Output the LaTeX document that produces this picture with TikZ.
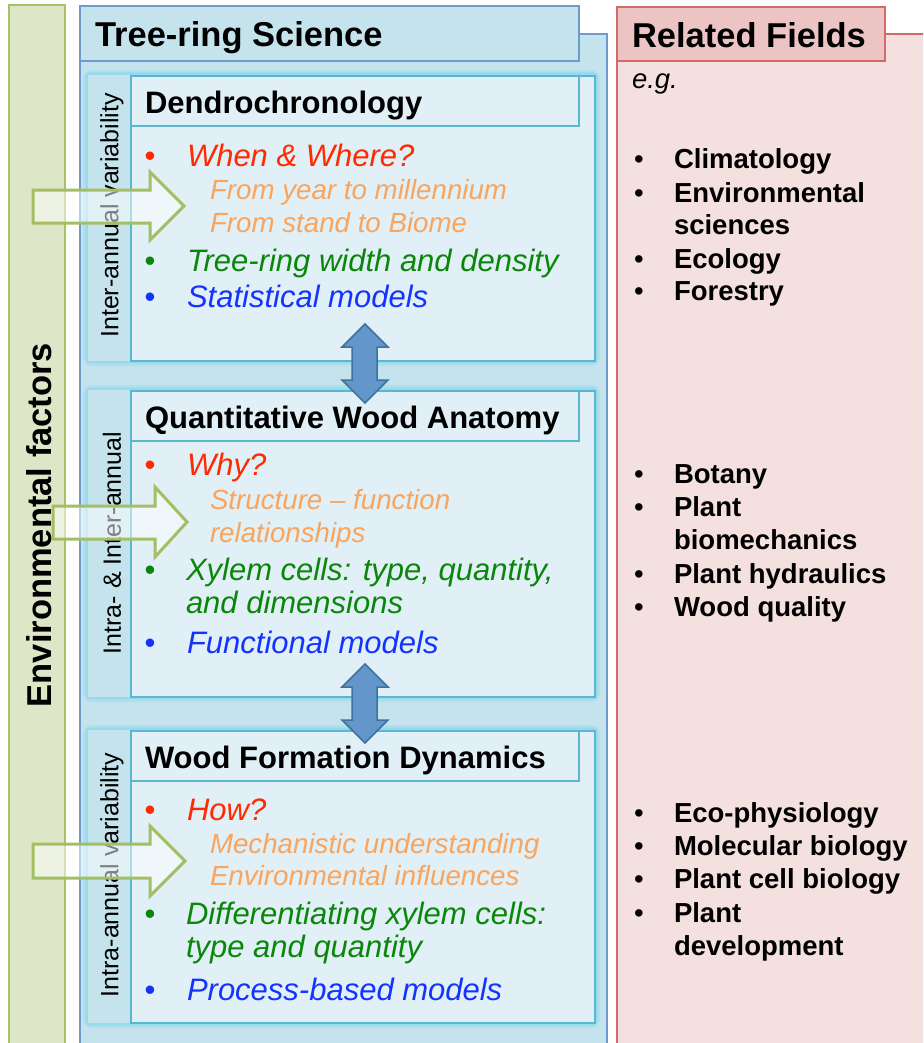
\documentclass[tikz,border=0pt]{standalone}
\usepackage{fontspec}
\setmainfont{Liberation Sans}
\definecolor{envfill}{HTML}{DEE6C8}
\definecolor{envline}{HTML}{A6C265}
\definecolor{bluefill}{HTML}{C5E3EC}
\definecolor{blueline}{HTML}{6E9BCB}
\definecolor{panelfill}{HTML}{E1EFF6}
\definecolor{panelline}{HTML}{5BB7CF}
\definecolor{glowc}{HTML}{7FD6EE}
\definecolor{redline}{HTML}{D26B66}
\definecolor{redtab}{HTML}{EBC4C3}
\definecolor{redfill}{HTML}{F3E0DF}
\definecolor{qred}{HTML}{FF2A00}
\definecolor{qorange}{HTML}{F9A55E}
\definecolor{qgreen}{HTML}{0A870A}
\definecolor{qblue}{HTML}{1433FF}
\definecolor{arrfill}{HTML}{6397CB}
\definecolor{arrline}{HTML}{41719C}
\definecolor{garr}{HTML}{A3BE63}
\newcommand{\fsz}[1]{\fontsize{#1}{#1}\selectfont}
\begin{document}
\begin{tikzpicture}[x=1pt,y=-1pt,
  txt/.style={inner sep=0pt, outer sep=0pt, anchor=base west},
  titletxt/.style={txt, font=\fsz{31}\bfseries},
  bodytxt/.style={txt, font=\fsz{31}\itshape},
  subtxt/.style={txt, font=\fsz{27.7}\itshape, text=qorange},
  righttxt/.style={txt, font=\fsz{27.5}\bfseries},
  bul/.style={inner sep=0pt, outer sep=0pt, anchor=base, font=\fsz{31}},
  rbul/.style={inner sep=0pt, outer sep=0pt, anchor=base, font=\fsz{27.5}},
  sidetxt/.style={inner sep=0pt, rotate=90, font=\fsz{25}},
  envbox/.style={draw=envline, fill=envfill, line width=2.5pt},
  bluebox/.style={draw=blueline, fill=bluefill, line width=2.5pt},
  redbox/.style={draw=redline, line width=2.5pt},
  panelbox/.style={draw=panelline, fill=panelfill, line width=2.5pt},
  glowa/.style={draw=glowc, line width=10pt, opacity=0.3, rounded corners=4pt},
  glowb/.style={draw=glowc, line width=5pt, opacity=0.5, rounded corners=2pt},
  barrow/.style={draw=arrline, fill=arrfill, line width=1.5pt, line join=miter},
  garrow/.style={draw=garr, line width=3pt, fill=white, fill opacity=0.5, line join=miter}
]
\path[use as bounding box] (0,0) rectangle (923,1043);
\clip (0,0) rectangle (923,1043);

% Environmental factors bar
\draw[envbox] (9,5) rectangle (65,1070);
\node[rotate=90, inner sep=0pt, font=\fsz{34.5}\bfseries] (env) at (39.5,525) {Environmental factors};

% Tree-ring Science box
\draw[bluebox] (80,34) rectangle (607,1070);
\draw[bluebox] (80,6) rectangle (579,61);
\node[txt, font=\fsz{34.5}\bfseries] (trs) at (95,47) {Tree-ring Science};

% Related fields box
\draw[redbox, fill=redfill] (617,34) rectangle (950,1070);
\draw[redbox, fill=redtab] (617,7) rectangle (885,61);
\node[txt, font=\fsz{34.5}\bfseries] (rf) at (632,48) {Related Fields};
\node[txt, font=\fsz{27.5}\itshape] (eg) at (632,89) {e.g.};

% Panels
\foreach \t/\b in {75/361, 390/697, 730/1023}{
  \draw[glowa] (88,\t) rectangle (595,\b);
  \draw[glowb] (88,\t) rectangle (595,\b);
  \fill[bluefill] (88,\t) rectangle (131,\b);
  \draw[panelbox] (131,\t+1) rectangle (595,\b);
  \draw[panelbox] (131,\t+1) rectangle (579,\t+51);
}

% Panel 1
\node[sidetxt] (s1) at (112,215.5) {Inter-annual variability};
\node[titletxt] (t1) at (145,114) {Dendrochronology};
\node[bul, text=qred] (b11) at (150,167) {•};
\node[bodytxt, text=qred] (l11) at (187,167) {When \& Where?};
\node[subtxt] (l12) at (210,200) {From year to millennium};
\node[subtxt] (l13) at (210,232) {From stand to Biome};
\node[bul, text=qgreen] (b14) at (150,271) {•};
\node[bodytxt, text=qgreen] (l14) at (187,271) {Tree-ring width and density};
\node[bul, text=qblue] (b15) at (150,307) {•};
\node[bodytxt, text=qblue] (l15) at (187,307) {Statistical models};

% Panel 2
\node[sidetxt] (s2) at (112,543) {Intra- \& Inter-annual};
\node[titletxt] (t2) at (145,428) {Quantitative Wood Anatomy};
\node[bul, text=qred] (b21) at (150,475) {•};
\node[bodytxt, text=qred] (l21) at (187,475) {Why?};
\node[subtxt] (l22) at (210,509) {Structure – function};
\node[subtxt] (l23) at (210,542) {relationships};
\node[bul, text=qgreen] (b24) at (150,580) {•};
\node[bodytxt, text=qgreen] (l24) at (186,580) {Xylem cells: type, quantity,};
\node[bodytxt, text=qgreen] (l25) at (186,613) {and dimensions};
\node[bul, text=qblue] (b26) at (150,653) {•};
\node[bodytxt, text=qblue] (l26) at (187,653) {Functional models};

% Panel 3
\node[sidetxt] (s3) at (112,875) {Intra-annual variability};
\node[titletxt] (t3) at (145,768) {Wood Formation Dynamics};
\node[bul, text=qred] (b31) at (150,820) {•};
\node[bodytxt, text=qred] (l31) at (187,820) {How?};
\node[subtxt] (l32) at (210,853) {Mechanistic understanding};
\node[subtxt] (l33) at (210,885) {Environmental influences};
\node[bul, text=qgreen] (b34) at (150,924) {•};
\node[bodytxt, text=qgreen] (l34) at (186,924) {Differentiating xylem cells:};
\node[bodytxt, text=qgreen] (l35) at (186,957) {type and quantity};
\node[bul, text=qblue] (b36) at (150,1000) {•};
\node[bodytxt, text=qblue] (l36) at (187,1000) {Process-based models};

% Related fields lists
\node[rbul] (rb1) at (639,168) {•};
\node[righttxt] (r1) at (674,168) {Climatology};
\node[rbul] (rb2) at (639,202) {•};
\node[righttxt] (r2) at (674,202) {Environmental};
\node[righttxt] (r2b) at (674,234) {sciences};
\node[rbul] (rb3) at (639,268) {•};
\node[righttxt] (r3) at (674,268) {Ecology};
\node[rbul] (rb4) at (639,300) {•};
\node[righttxt] (r4) at (674,300) {Forestry};

\node[rbul] (rb5) at (639,483) {•};
\node[righttxt] (r5) at (674,483) {Botany};
\node[rbul] (rb6) at (639,516) {•};
\node[righttxt] (r6) at (674,516) {Plant};
\node[righttxt] (r6b) at (674,549) {biomechanics};
\node[rbul] (rb7) at (639,583) {•};
\node[righttxt] (r7) at (674,583) {Plant hydraulics};
\node[rbul] (rb8) at (639,616) {•};
\node[righttxt] (r8) at (674,616) {Wood quality};

\node[rbul] (rb9) at (639,822) {•};
\node[righttxt] (r9) at (674,822) {Eco-physiology};
\node[rbul] (rb10) at (639,855) {•};
\node[righttxt] (r10) at (674,855) {Molecular biology};
\node[rbul] (rb11) at (639,888) {•};
\node[righttxt] (r11) at (674,888) {Plant cell biology};
\node[rbul] (rb12) at (639,922) {•};
\node[righttxt] (r12) at (674,922) {Plant};
\node[righttxt] (r12b) at (674,955) {development};

% Blue double arrows between panels
\foreach \top/\bot in {324/403, 664/743}{
  \draw[barrow] (365,\top) -- (388,\top+23) -- (377,\top+23) -- (377,\bot-23)
    -- (388,\bot-23) -- (365,\bot) -- (342,\bot-23) -- (352,\bot-23)
    -- (352,\top+23) -- (342,\top+23) -- cycle;
}

% Green block arrows (environmental influence)
\draw[garrow] (33,190) -- (150,190) -- (150,172) -- (184,206) -- (150,240) -- (150,223) -- (33,223) -- cycle;
\draw[garrow] (53,506) -- (155,506) -- (155,487) -- (187,522) -- (155,557) -- (155,539) -- (53,539) -- cycle;
\draw[garrow] (33,844) -- (150,844) -- (150,826) -- (185,861) -- (150,896) -- (150,878) -- (33,878) -- cycle;
\end{tikzpicture}
\end{document}
